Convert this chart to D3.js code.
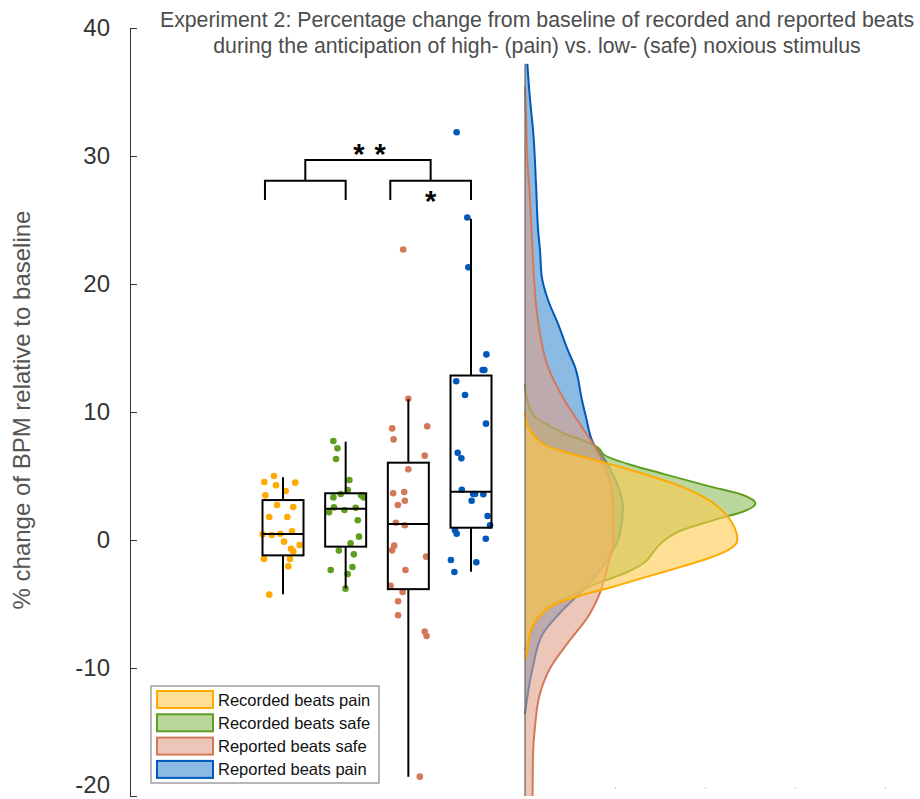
<!DOCTYPE html>
<html>
<head>
<meta charset="utf-8">
<script src="https://cdn.jsdelivr.net/npm/d3@7"></script>
<style>
  body { margin: 0; background: #fff; }
  svg { display: block; font-family: "Liberation Sans", Arial, sans-serif; }
</style>
</head>
<body>
<svg width="920" height="799"></svg>
<script>
// ---- data ----
var groups = ["Recorded beats pain", "Recorded beats safe", "Reported beats safe", "Reported beats pain"];
var lineColors = ["#ffaa00", "#5f9e1e", "#d4785a", "#0058b8"];
var fillColors = ["#ffc94d", "#8fbc5e", "#e0a088", "#3d8ccf"];
var yTicks = [-20, -10, 0, 10, 20, 30, 40];
var densTicks = [0.05, 0.1, 0.15, 0.2];

// box plot stats (% change)
var whiskerLo = [-4.24, -3.78, -18.5, -2.48];
var quart1    = [-1.2, -0.52, -3.84, 0.96];
var medians   = [0.47, 2.45, 1.25, 3.76];
var quart3    = [3.12, 3.65, 6.04, 12.85];
var whiskerHi = [4.9, 7.68, 11.0, 25.1];

// individual participants (value, horizontal jitter in half box widths)
var recPainVals = [5.0, 4.53, 4.27, 4.48, 3.83, 3.49, 2.73, 2.58, 1.8, 1.8, 0.44, 0.39, 0.49, 0.68, -0.13, -0.39, -0.68, -0.89, -1.48, -1.48, -2.06, -4.27];
var recPainJit  = [-0.44, -0.91, -0.34, 0.6, 0.13, -0.86, -0.29, 0.5, -0.67, 0.21, -0.99, -0.55, -0.13, 0.44, 0.05, 0.81, 0.39, 0.5, -0.93, 0.34, 0.26, -0.67];
var recSafeVals = [7.73, 7.16, 6.33, 4.69, 3.91, 3.59, 3.33, 3.33, 3.49, 2.55, 2.34, 2.52, 2.16, 1.54, 0.26, -0.26, -0.83, -1.12, -2.34, -2.11, -2.66, -3.8];
var recSafeJit  = [-0.6, -0.4, -0.47, 0.18, 0.11, -0.24, -0.6, 0.88, 0.75, -0.57, -0.06, 0.49, -0.81, 0.59, 0.65, 0.24, -0.33, 0.4, -0.73, 0.33, 0.1, -0.01];
var repSafeVals = [22.7, 11.04, 8.72, 8.88, 7.86, 6.59, 5.52, 3.65, 3.75, 3.07, 2.73, 1.35, 1.15, -0.44, -0.81, -1.3, -2.34, -3.57, -4.06, -4.79, -5.88, -7.16, -7.5, -18.49];
var repSafeJit  = [-0.25, 0, -0.79, 0.92, -0.72, 0.8, 0, -0.74, -0.2, -0.17, -0.51, -0.61, -0.17, -0.69, -0.79, 0.87, -0.14, -0.87, -0.28, -0.5, -0.5, 0.8, 0.89, 0.56];
var repPainVals = [31.85, 25.2, 21.3, 14.5, 13.28, 13.28, 12.4, 11.33, 9.09, 6.82, 6.38, 3.93, 3.59, 3.59, 3.57, 3.07, 1.88, 1.15, 0.76, 0.49, 0.1, -1.56, -1.74, -2.5];
var repPainJit  = [-0.7, -0.18, -0.13, 0.75, 0.57, 0.65, -0.72, -0.29, 0.73, -0.65, -0.47, -0.45, 0.11, 0.2, 0.6, 0.03, 0.81, 0.93, -0.78, -0.7, 0.72, -0.98, 0.26, -0.81];

// kernel density profiles (level, density)
var recPainLev = [10.0, 8.85, 8.07, 7.3, 6.5, 5.7, 5.08, 4.17, 3.13, 2.08, 0.78, 0.0, -0.78, -1.43, -2.08, -2.86, -3.65, -4.3, -4.95, -6.0, -7.3, -8.85, -9.4];
var recPainDen = [0, 0.0017, 0.0056, 0.0128, 0.032, 0.053, 0.068, 0.087, 0.102, 0.111, 0.117, 0.118, 0.113, 0.102, 0.087, 0.068, 0.049, 0.032, 0.018, 0.0078, 0.0028, 0.0011, 0];
var recSafeLev = [12.2, 10.7, 9.6, 9.0, 8.3, 7.8, 7.16, 6.64, 5.86, 5.2, 4.17, 3.52, 2.86, 2.21, 1.69, 0.7, -0.2, -0.8, -1.8, -2.5, -3.5, -4.2, -4.7, -5.2, -6.0, -7.8, -8.6];
var recSafeDen = [0, 0.0017, 0.0056, 0.0128, 0.022, 0.032, 0.041, 0.044, 0.059, 0.076, 0.103, 0.121, 0.128, 0.121, 0.108, 0.086, 0.076, 0.072, 0.066, 0.057, 0.038, 0.028, 0.019, 0.013, 0.0072, 0.0017, 0];
var repSafeLev = [35.4, 33.1, 29.2, 26.6, 24.0, 21.4, 18.75, 16.1, 13.5, 10.9, 8.85, 6.5, 4.0, 2.0, 0.0, -2.0, -4.0, -6.0, -8.0, -10.0, -12.0, -14.5, -17.0, -20.0];
var repSafeDen = [0, 0.0006, 0.0015, 0.0028, 0.0037, 0.0046, 0.0059, 0.0083, 0.0128, 0.022, 0.0315, 0.042, 0.048, 0.049, 0.049, 0.046, 0.042, 0.035, 0.024, 0.014, 0.0083, 0.0056, 0.0044, 0.0042];
var repPainLev = [37.2, 34.4, 31.8, 27.9, 24.0, 22.7, 20.6, 18.75, 16.9, 14.8, 13.5, 10.9, 9.6, 7.6, 6.0, 4.4, 2.6, 0.5, -1.56, -3.6, -5.7, -7.3, -9.9, -13.6];
var repPainDen = [0.0013, 0.0028, 0.0046, 0.0061, 0.0074, 0.0083, 0.0093, 0.0128, 0.0183, 0.0239, 0.0278, 0.0317, 0.0339, 0.0378, 0.0456, 0.0511, 0.0544, 0.0528, 0.0456, 0.0344, 0.0194, 0.01, 0.0044, 0];

var points = [
  {vals: recPainVals, jit: recPainJit},
  {vals: recSafeVals, jit: recSafeJit},
  {vals: repSafeVals, jit: repSafeJit},
  {vals: repPainVals, jit: repPainJit}
];
var densities = [
  {lev: recPainLev, den: recPainDen},
  {lev: recSafeLev, den: recSafeDen},
  {lev: repSafeLev, den: repSafeDen},
  {lev: repPainLev, den: repPainDen}
];

// ---- scales ----
var svg = d3.select("svg");
var axisX = 130;
var boxHalf = 20.5;

var y = d3.scaleLinear().domain([-20, 40]).range([796, 28]);
var x = d3.scalePoint().domain(d3.range(groups.length)).range([283, 471]);
var dx = d3.scaleLinear().domain([0, 0.2]).range([525, 885]);

svg.append("defs").append("clipPath").attr("id", "plotclip")
  .append("rect")
  .attr("x", axisX).attr("y", y(40))
  .attr("width", 920 - axisX).attr("height", y(-20) - y(40));

// ---- title ----
var title = svg.append("text")
  .attr("x", 537).attr("y", 27)
  .attr("text-anchor", "middle")
  .attr("font-size", 21.3)
  .attr("fill", "#4d4d4d");
title.append("tspan").attr("x", 537).text("Experiment 2: Percentage change from baseline of recorded and reported beats");
title.append("tspan").attr("x", 537).attr("dy", 26).text("during the anticipation of high- (pain) vs. low- (safe) noxious stimulus");

// ---- y axis ----
var yAxis = svg.append("g")
  .attr("transform", "translate(" + axisX + ",0)")
  .call(d3.axisLeft(y)
    .tickValues(yTicks)
    .tickSizeInner(-7)
    .tickSizeOuter(0)
    .tickPadding(20)
    .tickFormat(function(d) { return String(d); }));
yAxis.select(".domain").attr("stroke", "#333");
yAxis.selectAll(".tick line").attr("stroke", "#333");
yAxis.selectAll(".tick text")
  .attr("font-size", 24)
  .attr("fill", "#333")
  .attr("font-family", "Liberation Sans, Arial, sans-serif")
  .attr("dy", function(d) { return d === -20 ? "-0.14em" : "0.32em"; });

svg.append("text")
  .attr("transform", "translate(30," + 410 + ") rotate(-90)")
  .attr("text-anchor", "middle")
  .attr("font-size", 24)
  .attr("fill", "#555")
  .text("% change of BPM relative to baseline");

// ---- density axis (faint) ----
var dAxis = svg.append("g")
  .attr("transform", "translate(0," + (y(-20) - 9) + ")")
  .call(d3.axisBottom(dx).tickValues(densTicks).tickSize(2).tickFormat(""));
dAxis.select(".domain").remove();
dAxis.selectAll(".tick line").attr("stroke", "#ccc");

// ---- densities (drawn back to front) ----
var dens = svg.append("g").attr("clip-path", "url(#plotclip)");
var order = [3, 1, 2, 0];
var area = d3.area()
  .y(function(d) { return y(d[0]); })
  .x0(dx(0))
  .x1(function(d) { return dx(d[1]); })
  .curve(d3.curveMonotoneY);
var edge = d3.line()
  .y(function(d) { return y(d[0]); })
  .x(function(d) { return dx(d[1]); })
  .curve(d3.curveMonotoneY);

order.forEach(function(i) {
  var pts = densities[i].lev.map(function(v, k) { return [v, densities[i].den[k]]; });
  dens.append("path")
    .datum(pts)
    .attr("d", area)
    .attr("fill", fillColors[i])
    .attr("fill-opacity", 0.6);
  dens.append("path")
    .datum(pts)
    .attr("d", edge)
    .attr("fill", "none")
    .attr("stroke", lineColors[i])
    .attr("stroke-width", 2);
});

var allLev = d3.merge(densities.map(function(d) { return d.lev; }));
dens.append("line")
  .attr("x1", dx(0)).attr("x2", dx(0))
  .attr("y1", y(d3.max(allLev))).attr("y2", y(-20))
  .attr("stroke", "#666")
  .attr("stroke-width", 1.2);

// ---- jittered points ----
var dots = svg.append("g");
points.forEach(function(p, i) {
  dots.selectAll(".dot" + i)
    .data(p.vals)
    .enter().append("circle")
    .attr("cx", function(d, k) { return x(i) + p.jit[k] * boxHalf; })
    .attr("cy", function(d) { return y(d); })
    .attr("r", 3.3)
    .attr("fill", lineColors[i]);
});

// ---- box plots ----
var boxes = svg.append("g")
  .selectAll("g")
  .data(groups)
  .enter().append("g");

boxes.append("line")
  .attr("x1", function(d, i) { return x(i); })
  .attr("x2", function(d, i) { return x(i); })
  .attr("y1", function(d, i) { return y(whiskerHi[i]); })
  .attr("y2", function(d, i) { return y(quart3[i]); })
  .attr("stroke", "#000").attr("stroke-width", 2);
boxes.append("line")
  .attr("x1", function(d, i) { return x(i); })
  .attr("x2", function(d, i) { return x(i); })
  .attr("y1", function(d, i) { return y(quart1[i]); })
  .attr("y2", function(d, i) { return y(whiskerLo[i]); })
  .attr("stroke", "#000").attr("stroke-width", 2);
boxes.append("rect")
  .attr("x", function(d, i) { return x(i) - boxHalf; })
  .attr("y", function(d, i) { return y(quart3[i]); })
  .attr("width", boxHalf * 2)
  .attr("height", function(d, i) { return y(quart1[i]) - y(quart3[i]); })
  .attr("fill", "none")
  .attr("stroke", "#000").attr("stroke-width", 2);
boxes.append("line")
  .attr("x1", function(d, i) { return x(i) - boxHalf; })
  .attr("x2", function(d, i) { return x(i) + boxHalf; })
  .attr("y1", function(d, i) { return y(medians[i]); })
  .attr("y2", function(d, i) { return y(medians[i]); })
  .attr("stroke", "#000").attr("stroke-width", 2);

// ---- significance brackets ----
var pairs = [[0, 1], [2, 3]];
var lowBar = 28.07, legEnd = 26.56, topBar = 29.69;
var br = svg.append("g").attr("fill", "none").attr("stroke", "#000").attr("stroke-width", 2);
var mids = [];
pairs.forEach(function(p) {
  var xa = x(p[0]) - 0.88 * boxHalf, xb = x(p[1]);
  mids.push((xa + xb) / 2);
  br.append("path")
    .attr("d", "M" + xa + "," + y(legEnd) + "V" + y(lowBar) + "H" + xb + "V" + y(legEnd));
});
br.append("path")
  .attr("d", "M" + mids[0] + "," + y(lowBar) + "V" + y(topBar) + "H" + mids[1] + "V" + y(lowBar));

svg.append("text")
  .attr("x", (mids[0] + mids[1]) / 2 + 2).attr("y", y(topBar) + 4)
  .attr("text-anchor", "middle")
  .attr("font-size", 29).attr("font-weight", "bold")
  .attr("letter-spacing", 1)
  .text("* *");
svg.append("text")
  .attr("x", mids[1]).attr("y", y(legEnd) + 11)
  .attr("text-anchor", "middle")
  .attr("font-size", 29).attr("font-weight", "bold")
  .text("*");

// ---- legend ----
var lg = svg.append("g").attr("transform", "translate(151,686)");
lg.append("rect")
  .attr("width", 228).attr("height", 97)
  .attr("fill", "#fff")
  .attr("stroke", "#888").attr("stroke-width", 1.2);
var rows = lg.selectAll(".row")
  .data(groups)
  .enter().append("g")
  .attr("transform", function(d, i) { return "translate(0," + (5 + i * 23.3) + ")"; });
rows.append("rect")
  .attr("x", 6).attr("width", 56).attr("height", 17)
  .attr("fill", function(d, i) { return fillColors[i]; })
  .attr("fill-opacity", 0.6)
  .attr("stroke", function(d, i) { return lineColors[i]; })
  .attr("stroke-width", 2);
rows.append("text")
  .attr("x", 67).attr("y", 14.5)
  .attr("font-size", 16.5)
  .attr("fill", "#111")
  .text(function(d) { return d; });
</script>
</body>
</html>
